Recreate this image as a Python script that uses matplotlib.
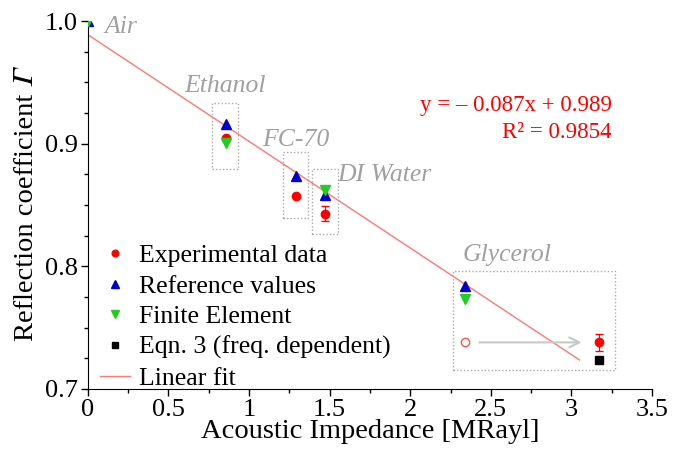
import matplotlib.pyplot as plt
from matplotlib.patches import Rectangle

plt.rcParams['font.family'] = ['Liberation Serif', 'DejaVu Serif']

# acoustic impedance [MRayl]
liquids = ["Air", "Ethanol", "FC-70", "DI Water", "Glycerol"]
z_liquid = [0.0, 0.86, 1.29, 1.47, 2.34]

# measured reflection coefficients (glycerol drawn open, moved to 3.17 MRayl)
exp_z = [0.86, 1.29, 1.47]
exp_r = [0.905, 0.857, 0.843]
exp_err = [0.0, 0.0, 0.006]
gly_open_r = 0.738
gly_z_freq = 3.17
gly_r = 0.738
gly_err = 0.007

ref_z = [0.0, 0.86, 1.29, 1.47, 2.34]
ref_r = [1.0, 0.916, 0.874, 0.858, 0.784]

fe_z = [0.0, 0.86, 1.47, 2.34]
fe_r = [1.0, 0.901, 0.862, 0.773]

eqn3_z = [3.17]
eqn3_r = [0.724]

fit_slope = -0.087
fit_icpt = 0.989
fit_r2 = 0.9854

fig = plt.figure(figsize=(6.75, 4.5), dpi=100)
ax = fig.add_axes([0.130, 0.1356, 0.836, 0.8174])

ax.plot(exp_z + [gly_z_freq], exp_r + [gly_r], 'o', color='red', ms=6,
        label='Experimental data', zorder=3)
ax.errorbar(exp_z + [gly_z_freq], exp_r + [gly_r], yerr=exp_err + [gly_err],
            fmt='none', ecolor='red', capsize=3, elinewidth=0.8, zorder=3)
ax.plot([z_liquid[4]], [gly_open_r], 'o', mfc='none', mec='#ff5050', ms=6, mew=1)
ax.plot(ref_z, ref_r, '^', color='#0000cc', ms=7, label='Reference values', zorder=4)
ax.plot(fe_z, fe_r, 'v', color='#22cc22', ms=7, label='Finite Element', zorder=5)
ax.plot(eqn3_z, eqn3_r, 's', color='black', ms=6, label='Eqn. 3 (freq. dependent)')

xf = [0.0, 3.05]
ax.plot(xf, [fit_slope * x + fit_icpt for x in xf], color='#ff7878', lw=1,
        label='Linear fit', zorder=2)

# frequency shift of the glycerol point
ax.annotate('', xy=(3.08, gly_open_r), xytext=(2.41, gly_open_r),
            arrowprops=dict(arrowstyle='->', color='#c8c8c8', lw=1.5,
                            mutation_scale=18))

# dotted boxes around each liquid
boxes = [(0.773, 0.8796, 0.156, 0.0534),
         (1.209, 0.8397, 0.159, 0.0535),
         (1.389, 0.8264, 0.161, 0.0532),
         (2.265, 0.7153, 1.008, 0.0810)]
for bx, by, bw, bh in boxes:
    ax.add_patch(Rectangle((bx, by), bw, bh, fill=False, ec='#aaaaaa',
                           ls=(0, (1, 1.5)), lw=1))

label_pos = [(0.205, 0.995), (0.854, 0.947), (1.29, 0.903), (1.84, 0.8745), (2.60, 0.809)]
for name, (lx, ly) in zip(liquids, label_pos):
    ax.text(lx, ly, name, color='#a0a0a0', fontsize=18.5, style='italic',
            ha='center', va='center')

ax.text(3.25, 0.9315, 'y = \u2013 0.087x + 0.989', color='red', fontsize=16.5,
        ha='right', va='center')
ax.text(3.25, 0.909, 'R\u00b2 = %.4f' % fit_r2, color='red', fontsize=16.5,
        ha='right', va='center')

ax.set_xlim(0, 3.5)
ax.set_ylim(0.7, 1.0)
ax.set_xticks([0, 0.5, 1, 1.5, 2, 2.5, 3, 3.5])
ax.set_xticklabels(['0', '0.5', '1', '1.5', '2', '2.5', '3', '3.5'])
ax.set_xticks([0.25 + 0.5 * i for i in range(7)], minor=True)
ax.set_yticks([0.7, 0.8, 0.9, 1.0])
ax.set_yticklabels(['0.7', '0.8', '0.9', '1.0'])
ax.set_yticks([0.725, 0.75, 0.775, 0.825, 0.85, 0.875, 0.925, 0.95, 0.975], minor=True)
ax.tick_params(which='both', direction='out', labelsize=19, width=1, pad=2)
ax.tick_params(which='major', length=5)
ax.tick_params(which='minor', length=3)
ax.spines['top'].set_visible(False)
ax.spines['right'].set_visible(False)

ax.set_xlabel('Acoustic Impedance [MRayl]', fontsize=20.5, labelpad=-1)
ax.set_ylabel('Reflection coefficient \U0001D6E4', fontsize=20.5, labelpad=4,
              family=['Liberation Serif', 'STIXGeneral', 'DejaVu Serif'])

ax.legend(loc='lower left', bbox_to_anchor=(-0.005, -0.045), frameon=False,
          fontsize=18.5, handlelength=1.15, handletextpad=0.35, labelspacing=0.3,
          borderaxespad=0.2, markerscale=0.8)

fig.savefig('out.png', dpi=100)
